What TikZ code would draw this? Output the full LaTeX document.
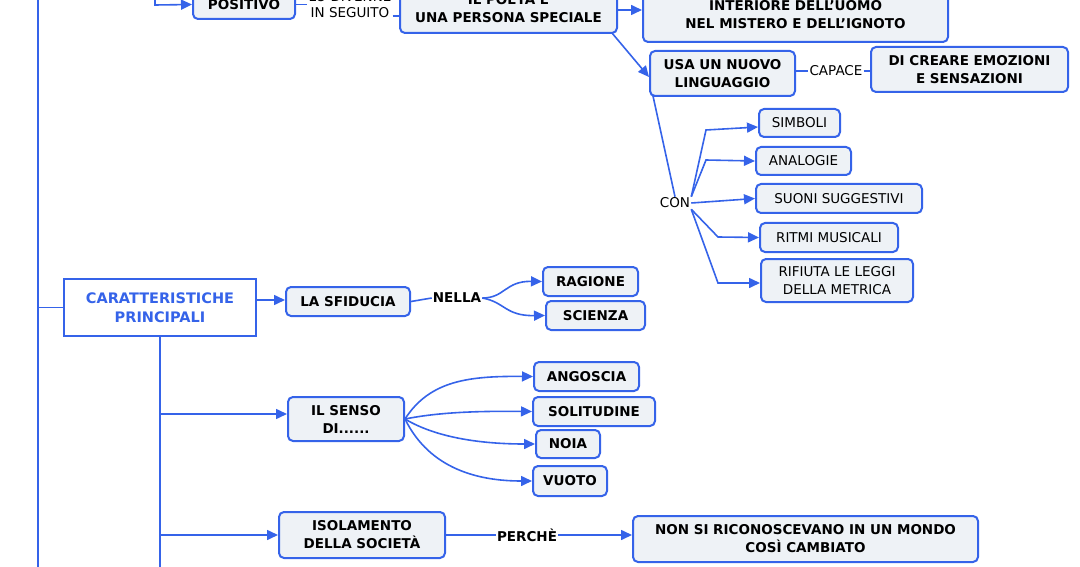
\documentclass[tikz,border=0pt]{standalone}
\usepackage{fontspec}
\setmainfont{DejaVu Sans}
\usetikzlibrary{arrows.meta}
\definecolor{cb}{HTML}{3563E9}
\definecolor{cf}{HTML}{EEF2F6}
\begin{document}
\begin{tikzpicture}[x=1pt,y=-1pt,
  box/.style={draw=cb,fill=cf,line width=2pt,rounded corners=5pt,font=\fontsize{13.5}{18}\selectfont\bfseries,align=center,inner sep=0pt},
  nb/.style={box,font=\fontsize{13.5}{18}\selectfont},
  lab/.style={font=\fontsize{13.5}{16}\selectfont,fill=white,inner sep=1pt,align=center},
  ln/.style={draw=cb,line width=1.6pt},
  ar/.style={ln,-{Triangle[length=11pt,width=10pt]}}]
\useasboundingbox (0,0) rectangle (1080,567);
\clip (0,0) rectangle (1080,567);
% boxes
\node[box,minimum width=102,minimum height=29] (pos) at (244,4.5) {POSITIVO};
\node[box,minimum width=217,minimum height=48] (poeta) at (508.5,9) {IL POETA E\\UNA PERSONA SPECIALE};
\node[box,minimum width=305,minimum height=62] (int) at (795.5,11) {\\INTERIORE DELL'UOMO\\NEL MISTERO E DELL'IGNOTO};
\node[box,minimum width=145,minimum height=45] (usa) at (722.5,73.5) {USA UN NUOVO\\LINGUAGGIO};
\node[box,minimum width=197,minimum height=45] (cre) at (969.5,69.5) {DI CREARE EMOZIONI\\E SENSAZIONI};
\node[nb,minimum width=81,minimum height=28] (sim) at (799.5,123) {SIMBOLI};
\node[nb,minimum width=95,minimum height=28] (ana) at (803.5,161) {ANALOGIE};
\node[nb,minimum width=166,minimum height=29] (suo) at (839,198.5) {SUONI SUGGESTIVI};
\node[nb,minimum width=138,minimum height=29] (rit) at (829,237.5) {RITMI MUSICALI};
\node[nb,minimum width=152,minimum height=43] (rif) at (837,280.5) {RIFIUTA LE LEGGI\\DELLA METRICA};
\node[draw=cb,fill=white,line width=2pt,minimum width=192,minimum height=57,inner sep=0pt,align=center,text=cb,font=\fontsize{14.5}{19}\selectfont\bfseries] (car) at (160,307.5) {CARATTERISTICHE\\PRINCIPALI};
\node[box,minimum width=124,minimum height=29] (sfi) at (348,301.5) {LA SFIDUCIA};
\node[box,minimum width=95,minimum height=29] (rag) at (590.5,281.5) {RAGIONE};
\node[box,minimum width=99,minimum height=29] (sci) at (595.5,315.5) {SCIENZA};
\node[box,minimum width=116,minimum height=44] (sen) at (346,419) {IL SENSO\\DI......};
\node[box,minimum width=105,minimum height=29] (ang) at (586.5,376.5) {ANGOSCIA};
\node[box,minimum width=122,minimum height=29] (sol) at (594,411.5) {SOLITUDINE};
\node[box,minimum width=64,minimum height=28] (noi) at (568,444) {NOIA};
\node[box,minimum width=74,minimum height=30] (vuo) at (570,481) {VUOTO};
\node[box,minimum width=166,minimum height=46] (iso) at (362,535) {ISOLAMENTO\\DELLA SOCIETÀ};
\node[box,minimum width=345,minimum height=46] (non) at (805.5,539) {NON SI RICONOSCEVANO IN UN MONDO\\COSÌ CAMBIATO};
% labels
\node[lab] (div) at (350,5) {LO DIVENNE\\IN SEGUITO};
\node[lab] (cap) at (836,71) {CAPACE};
\node[lab] (con) at (675,203) {CON};
\node[lab,font=\fontsize{13.5}{16}\selectfont\bfseries] (nel) at (457,298) {NELLA};
\node[lab,font=\fontsize{13.5}{16}\selectfont\bfseries] (per) at (527,535) {PERCHÈ};
% coordinates
\coordinate (top) at (38,0);
\coordinate (bot) at (38,567);
\coordinate (lb) at (38,307.5);
\coordinate (tl) at (155,0);
\coordinate (tc) at (155,5);
\coordinate (cb1) at (160,567);
\coordinate (cs) at (160,414);
\coordinate (ci) at (160,535);
% connectors
\draw[ln] (top) -- (bot);
\draw[ln] (lb) -- (car.west);
\draw[ar] (tl) -- (tc) -- (pos.west);
\draw[ln] (pos.east) -- (div.west |- pos.east);
\draw[ln] (div.east |- 0,16) -- (poeta.west |- 0,16);
\draw[ar] (poeta.east |- 0,10) -- (int.west |- 0,10);
\draw[ar] (612,33) -- (usa.west |- 0,77);
\draw[ln] (usa.east |- cap) -- (cap.west);
\draw[ln] (cap.east) -- (cre.west |- cap);
\draw[ln] (653,96) -- (con.north);
\draw[ar] (con.north east) -- (706,130) -- (sim.west |- 0,127);
\draw[ar] (con.north east) -- (706,160) -- (ana.west);
\draw[ar] (con.east) -- (suo.west);
\draw[ar] (con.south east) -- (718,237) -- (rit.west);
\draw[ar] (con.south east) -- (718,283) -- (rif.west |- 0,283);
\draw[ar] (car.east |- 0,300) -- (sfi.west |- 0,300);
\draw[ln] (sfi.east) -- (nel.west);
\draw[ar] (nel.east) .. controls (505,298) and (505,281) .. (rag.west);
\draw[ar] (nel.east) .. controls (505,302) and (505,316) .. (sci.west);
\draw[ln] (car.south) -- (cb1);
\draw[ar] (cs) -- (sen.west |- cs);
\draw[ar] (ci) -- (iso.west);
\draw[ar] (sen.east) .. controls (430,380) and (470,376) .. (ang.west);
\draw[ar] (sen.east) .. controls (440,412) and (480,411) .. (sol.west);
\draw[ar] (sen.east) .. controls (440,440) and (490,444) .. (noi.west);
\draw[ar] (sen.east) .. controls (430,470) and (480,481) .. (vuo.west);
\draw[ln] (iso.east) -- (per.west);
\draw[ar] (per.east) -- (non.west |- per);
\end{tikzpicture}
\end{document}
